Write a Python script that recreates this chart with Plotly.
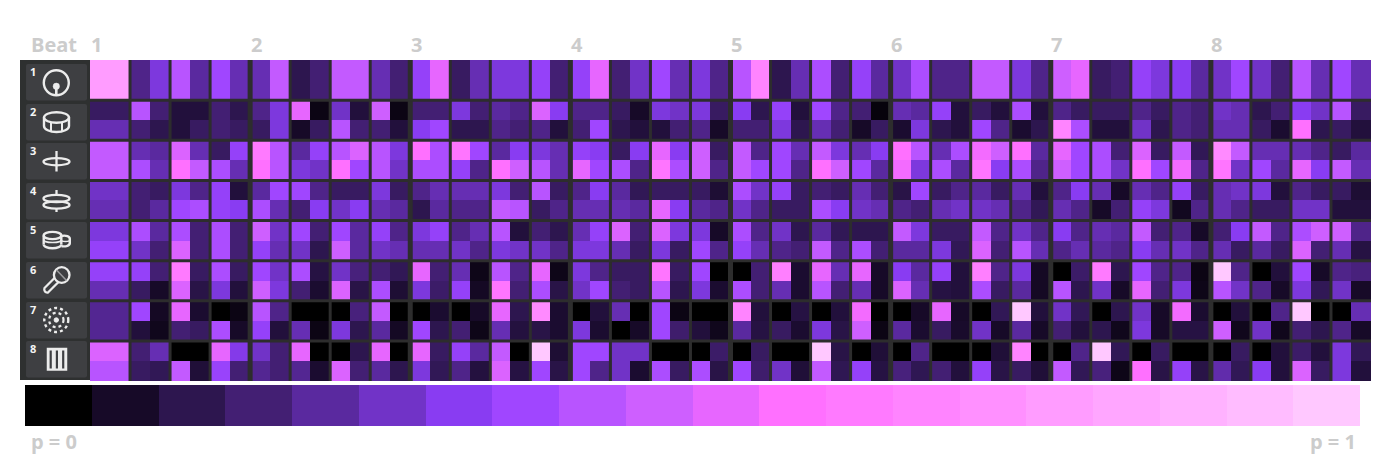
import plotly.graph_objects as go

W, H = 1390, 460

# Colour levels of the p legend (p = 0 ... p = 1)
LEVEL_COLORS = ["#000000", "#170a28", "#2d164f", "#431f73", "#5a299f", "#7133c7", "#893cf2",
                "#a046ff", "#b854ff", "#ce5fff", "#e766ff", "#ff70ff", "#ff7aff", "#ff84ff",
                "#ff90ff", "#ff9cff", "#ffa6ff", "#ffb2ff", "#ffbcff", "#ffc8ff"]
LEGEND_LEVELS = list(range(20))
BEAT_LABELS = ["1", "2", "3", "4", "5", "6", "7", "8"]
TRACK_LABELS = ["1", "2", "3", "4", "5", "6", "7", "8"]

# Track 1 (one row drawn twice in the picture: both halves are the same)
T1 = [15,15,3.5,5.5,8,4,7,4.5, 4.5,8.5,2,3,8.5,8.5,4.5,3,
      6.5,10,2.5,4.5,5.5,5.5,6.5,3, 6.5,10,3,5,7,4.5,5.5,3.5,
      8,13,2,4.5,7.5,3,6.5,4, 5,7.5,3.5,3.5,8.5,8.5,5.5,3.5,
      9,10,2.5,3,6.5,5.5,6,4, 5,7,5,3,8,4.5,7,4.5]
# Track 2
T2A = [2.5,2.5,8,3,1.5,1.5,3,2, 3.5,5.5,10,0.5,5,1.5,9,0.5,
       3,3,5.5,3,4,3.5,9.5,6, 3.5,3.5,2.5,1,5.5,5,5.5,2.5,
       6,2,6.5,1.5,7,3.5,3,0.3, 4.5,4,6.5,1.5,2.5,1.5,7.5,1.5,
       3.5,2.5,2.5,2.5,3.5,2.5,3.5,3, 5,4.5,2,3,6,5,8,2.5]
T2B = [4.5,4.5,3,2,1.5,2.5,3,2.5, 2.5,5.5,1,2.5,8,3,3,1.5,
       6,7,2,2,3.5,3,3.5,1.5, 3,7,2,1.5,1.5,3,3.5,1,
       3,3,5.5,2,4.5,3,1,2.5, 1.2,5.5,2,1.5,7,3.5,1.2,2,
       13,7.5,1.5,1.5,5,2,3.5,3, 4.5,4.5,2.5,1.2,11,2,2.5,1.5]
# Track 3
T3A = [8.5,8.5,4.5,4,9.5,4.5,2.5,6.5, 12,8,4,6.5,8,9.5,8,5.5,
       11,7.5,11.5,7,4,6,5.5,4.5, 6.5,6,2.5,6,10,6,9,2.5,
       8.5,3.5,7,4.5,8.5,5.5,4.5,6, 11,8,4.5,7.5,10.5,9,11,4,
       10,7,7.5,3,9.5,2.5,8.5,2.2, 13.5,8.5,4.5,4.5,4.5,3.5,2.5,4]
T3B = [8.5,8.5,7.5,4.5,11,8.5,7.5,4.5, 11,8,5.5,5,11,7,8,5,
       7.5,7.5,6.5,3.5,11,9,8,4.5, 10,7,7.5,3.5,11.5,7.5,9,3.5,
       8.5,7,7,3.5,11,9,7,4, 10.5,5.5,7.5,4,11.5,6,7.5,3.5,
       9,7,7.5,5,11,7,10.5,3.5, 11.5,5,7,4,10,6,8.5,4.5]
# Track 4
T4A = [5,5,3,2.5,5.5,3.5,6.5,1.5, 4,7,7,3.5,2.5,2.5,5.5,2.5,
       3.5,4.5,4.5,4.5,5.5,3,8,2.5, 3.5,6,4,2.2,2.5,2.5,2.5,1.3,
       7.5,5,6.5,2.5,3,2.5,4.5,3, 1.8,7,2.5,3.5,4,2.5,4.5,1.5,
       3.5,6,4.5,1,4.5,3.5,6.5,2.5, 4.5,5,5.5,1.5,3.5,2.5,2.5,1.3]
T4B = [4.5,4.5,3,4,7,7.5,6.5,6, 7.5,4.5,3,6,5,6,4.5,4,
       2,4,3.5,3.5,8.5,8,2.5,3.5, 4.5,4.5,4.5,4,10,6,4,3.5,
       5,3.5,2.5,2.5,7.5,6,5,4.5, 3.5,3,4.5,5,5,4.5,3.5,2.2,
       4.5,3.5,1,3,6.5,5.5,0.8,3.5, 4.5,3.5,2.5,2.5,5,5,1.5,1.5]
# Track 5
T5A = [5.5,5.5,7.5,4,7.5,3,7.5,3, 9,5,7,3,7,4,6.5,3.5,
       5.5,6.5,3.5,4.5,8,1.5,3,2, 4.5,6.5,9.5,3,9.5,5.5,5.5,1,
       7.5,3.5,5,2,4,2.2,2,2, 8.5,5.5,2.5,2.5,8.5,3.5,5,3.5,
       6,3.5,4.5,4,8.5,3,3.5,1, 3,6,8.5,3.5,7.5,9,9,3.5]
T5B = [6.5,6.5,5,3,9.5,3,7.5,3, 6.5,4.5,5,2,9,4,5,4.5,
       4.5,4.5,5,3.5,5.5,5,5,3.5, 5.5,5.5,4.5,2.5,5.5,2.5,7,3.5,
       6.5,4.5,3.5,3,8.5,3.5,7.5,3, 4,4,5.5,2.2,9.5,3,8,4.5,
       3.5,4.5,4,3.5,6,4.5,5,3.5, 4.5,2.5,4,2.5,9.5,3,4.5,1.7]
# Track 6
T6A = [6.5,6.5,6.5,3,12,2.5,7.5,2.5, 7,5,7.5,1.7,5,3.2,3,2.2,
       10,3,4.5,0.6,8,3.5,10,0.6, 5.5,3.5,2.5,2.5,11.5,2.5,7,0,
       0,3,12.5,1.2,10,4.5,10,1, 6,4,6.5,1.5,12.5,3.5,5.5,0.9,
       0,2.7,12,2,7,3.5,3.5,0.5, 19,3.5,0,1.5,7,1,3.5,3.2]
T6B = [4.5,4.5,2.5,1,9.5,1.8,5.5,1.5, 9,5.5,3,1.2,9.5,1.8,7.5,1.3,
       5.5,2.7,6.5,0.9,11.5,3,7.5,1.8, 5,7,3,2.5,8,2,5.5,1.2,
       7.5,3,4.5,1.2,8,3,4.5,1, 9.5,4.5,1.7,1.5,7.5,2.5,4,0.9,
       8,2,5,1,10,3,5.5,0.6, 8,5,3.5,1,5.5,2.2,5,1]
# Track 7
T7A = [3.7,3.7,7,0.9,10,1.2,0,0.5, 8,3.5,0,0,0,3.2,8.5,0,
       0,1.2,0,1,10,2,13.5,1.2, 0,1.5,4.5,0,7,0.5,0,0,
       13,1.5,0,1.7,0,1.5,10.5,0, 0,1,10,1,0,2.2,19,1.5,
       5,2.2,0,2,5,1,10.5,1.2, 0,1.5,0,3.5,19,0,0,4.5]
T7B = [3.7,3.7,1.5,0.7,3,2.5,7.5,1, 6.5,1.5,4.5,0.5,5.5,2,4,0.9,
       7,2,3,0.6,4.5,1.6,1.8,1.2, 5.5,1.2,0,1,7,2.8,1.5,0.7,
       4,1.7,2.5,1.2,5.5,1.8,9,0.5, 4,1.2,2.5,1.1,5,1,4,1,
       3,1.5,2,0.7,5.5,1,1.7,1.7, 9,0.7,5,0.7,3,2,3.5,1]
# Track 8
T8A = [9.5,9.5,3,4.5,0,0,10,5.8, 5,3,10,0,0,2,10,0,
       10,2.5,6.5,4,8.5,0,19,1.3, 7,7,5,5,0,0,0,2.7,
       0,2.5,0,0,19,1.8,0,1.4, 0,3.5,0,0,0,1.4,13,0,
       0,3.5,19,2.2,0,2.5,0,0, 0,2.5,0,1.5,2.7,1.5,5.5,2.2]
T8B = [8,8,2.5,2.2,8.5,1.4,6.7,3, 3.7,3,3.7,1.2,9.5,3,4,2,
       5.5,2.2,3.5,1.6,9.5,1.7,7,1.8, 7,3.5,5,1.2,7.5,2.5,7.5,1.8,
       7,2.8,5,1.4,8.5,2.1,6.5,1.7, 3.2,2.1,3,1.5,6.5,1.8,2.5,1.4,
       8.5,2.2,3.2,0.6,11,1.8,6.5,1.8, 4.3,2.2,6,1.5,9.5,2.5,5.5,1.5]

GRID_ROWS = [T1, T1, T2A, T2B, T3A, T3B, T4A, T4B, T5A, T5B, T6A, T6B, T7A, T7B, T8A, T8B]

# Layout constants, pixels
GRID_L, GRID_R, GRID_T, GRID_B = 90, 1371, 60, 381
BAR_L, BAR_R, BAR_T, BAR_B = 25, 1360, 385, 426
PANEL = "#2e3030"
BOX = "#3e3f42"
GRIDLINE = "#2d2d2d"
ICON = "#ececec"
LABEL = "#cccccc"


def px(x):
    return x / W


def py(y):
    return 1 - y / H


scale = [[i / 19, c] for i, c in enumerate(LEVEL_COLORS)]

fig = go.Figure()
fig.add_trace(go.Heatmap(z=GRID_ROWS, x0=0.5, dx=1, y0=0.5, dy=1, zmin=0, zmax=19,
                         colorscale=scale, showscale=False, hoverinfo="skip",
                         xaxis="x", yaxis="y"))
fig.add_trace(go.Heatmap(z=[LEGEND_LEVELS], x0=0.5, dx=1, y0=0, dy=1, zmin=0, zmax=19,
                         colorscale=scale, showscale=False, hoverinfo="skip",
                         xaxis="x2", yaxis="y2"))

shapes = []


def pshape(**k):
    k.setdefault("xref", "paper")
    k.setdefault("yref", "paper")
    shapes.append(k)


def line_style(w=2.0, color=ICON):
    return dict(color=color, width=w)


def rect(x0, y0, x1, y1, fill=None, line=None):
    pshape(type="rect", x0=px(x0), x1=px(x1), y0=py(y0), y1=py(y1),
           fillcolor=fill if fill else "rgba(0,0,0,0)", line=line or dict(width=0))


def ell(cx, cy, rx, ry, fill=None, w=2.0, dash=None, color=ICON):
    ln = line_style(w, color)
    if dash:
        ln["dash"] = dash
    pshape(type="circle", x0=px(cx - rx), x1=px(cx + rx), y0=py(cy + ry), y1=py(cy - ry),
           fillcolor=fill if fill else "rgba(0,0,0,0)", line=ln)


def path(points, w=2.0, color=ICON):
    d = ""
    for cmd, *pts in points:
        d += cmd
        d += " ".join(f"{px(pts[i]):.5f},{py(pts[i + 1]):.5f}" for i in range(0, len(pts), 2))
        d += " "
    pshape(type="path", path=d.strip(), line=line_style(w, color),
           fillcolor="rgba(0,0,0,0)")


def seg(x0, y0, x1, y1, w=2.0, color=ICON):
    path([("M", x0, y0), ("L", x1, y1)], w, color)


def lower_arc(cx, cy, rx, ry, w=2.0):
    k = 0.55
    path([("M", cx - rx, cy),
          ("C", cx - rx, cy + k * ry, cx - k * rx, cy + ry, cx, cy + ry),
          ("C", cx + k * rx, cy + ry, cx + rx, cy + k * ry, cx + rx, cy)], w)


# Left panel and the eight rounded boxes
rect(20, 60, 90, 380, fill=PANEL)
BOX_TOPS = [64, 104, 143, 183, 222, 262, 302, 341]
for t in BOX_TOPS:
    h = 36.5
    x0, x1, r = 26, 87, 2
    d = (f"M{px(x0 + r):.5f},{py(t):.5f} L{px(x1 - r):.5f},{py(t):.5f} "
         f"Q{px(x1):.5f},{py(t):.5f} {px(x1):.5f},{py(t + r):.5f} "
         f"L{px(x1):.5f},{py(t + h - r):.5f} Q{px(x1):.5f},{py(t + h):.5f} {px(x1 - r):.5f},{py(t + h):.5f} "
         f"L{px(x0 + r):.5f},{py(t + h):.5f} Q{px(x0):.5f},{py(t + h):.5f} {px(x0):.5f},{py(t + h - r):.5f} "
         f"L{px(x0):.5f},{py(t + r):.5f} Q{px(x0):.5f},{py(t):.5f} {px(x0 + r):.5f},{py(t):.5f} Z")
    pshape(type="path", path=d, fillcolor=BOX, line=dict(width=0))

# Icon 1: kick
ell(56.3, 82.7, 12.5, 12.5, w=2.4)
ell(56.3, 86.3, 3.2, 3.2, fill=ICON, w=0.5)
seg(56.3, 86.3, 56.3, 95, 2.6)
# Icon 2: snare
ell(56.5, 117.5, 12.5, 5.3, w=2.4)
seg(44, 117.5, 44, 126, 2.4)
seg(69, 117.5, 69, 126, 2.4)
lower_arc(56.5, 126, 12.5, 6, 2.4)
seg(51, 123, 51, 131.5, 2)
seg(62, 123, 62, 131.5, 2)
# Icon 3: hi-hat
ell(56.5, 161.7, 13, 3.6, w=2.3)
seg(56.5, 151, 56.5, 171.5, 2.3)
# Icon 4: double cymbal
ell(56.5, 198.5, 13, 3.7, w=2.3)
ell(56.5, 205, 13, 3.7, w=2.3)
seg(56.5, 190, 56.5, 195, 2.3)
seg(56.5, 208.7, 56.5, 212, 2.3)
# Icon 5: toms
ell(52.5, 235.5, 8.8, 3.6, w=2.4)
seg(43.7, 235.5, 43.7, 244.5, 2.4)
seg(61.3, 235.5, 61.3, 244.5, 2.4)
lower_arc(52.5, 244.5, 8.8, 3.7, 2.4)
lower_arc(52.5, 240, 8.8, 2.6, 1.5)
path([("M", 61.5, 236), ("C", 66, 235, 70, 236.5, 69.8, 239), ("L", 69.8, 243),
      ("C", 70, 245.5, 66, 246.8, 61.5, 246.3)], 2.4)
lower_arc(65.5, 240, 4.3, 1.5, 1.5)
# Icon 6: microphone
ell(61.7, 275, 7.8, 7.8, w=2.3)
seg(56.5, 270, 66.5, 280.5, 1.5, "#9a9a9d")
path([("M", 55, 277.5), ("L", 44.5, 288), ("C", 43.5, 291, 45.5, 293, 48, 292.5), ("L", 58.5, 282)], 2.3)
# Icon 7: dotted rings
ell(56.3, 320, 2.2, 2.2, fill=ICON, w=1)
ell(56.3, 320, 7.2, 7.2, w=2.2, dash="dot")
ell(56.3, 320, 12, 12, w=2.4, dash="dot")
# Icon 8: piano
rect(47.5, 348.5, 66.5, 370, fill=ICON, line=line_style(1.5))
for xk in (50.7, 56.9, 63.2):
    seg(xk, 350.5, xk, 368.5, 2.2, BOX)

# Grid lines
for c in range(2, 64, 2):
    shapes.append(dict(type="line", xref="x", yref="y", x0=c, x1=c, y0=0, y1=16,
                       line=dict(color=GRIDLINE, width=5 if c % 8 == 0 else 3)))
for r in range(2, 16, 2):
    shapes.append(dict(type="line", xref="x", yref="y", x0=0, x1=64, y0=r, y1=r,
                       line=dict(color=GRIDLINE, width=3)))

annotations = []


def label(text, x, y, size, color=LABEL, weight=700, anchor="left"):
    annotations.append(dict(text=text, xref="paper", yref="paper", x=px(x), y=py(y),
                            xanchor=anchor, yanchor="middle", showarrow=False,
                            font=dict(family="Open Sans", size=size, color=color, weight=weight)))


label("Beat", 28.5, 45, 20)
for i, b in enumerate(BEAT_LABELS):
    label(b, 88.5 + 160.1 * i, 45, 20)
for t, n in zip(BOX_TOPS, TRACK_LABELS):
    label(n, 27.5, t + 7, 11, color="#f4f4f4")
label("p = 0", 28.5, 441, 20)
label("p = 1", 1357.5, 441, 20, anchor="right")

fig.update_layout(
    width=W, height=H, autosize=False, margin=dict(l=0, r=0, t=0, b=0, pad=0),
    paper_bgcolor="white", plot_bgcolor="white", showlegend=False,
    shapes=shapes, annotations=annotations,
    xaxis=dict(domain=[px(GRID_L), px(GRID_R)], range=[0, 64], visible=False, fixedrange=True),
    yaxis=dict(domain=[py(GRID_B), py(GRID_T)], range=[16, 0], visible=False, fixedrange=True),
    xaxis2=dict(domain=[px(BAR_L), px(BAR_R)], range=[0, 20], visible=False, fixedrange=True, anchor="y2"),
    yaxis2=dict(domain=[py(BAR_B), py(BAR_T)], range=[-0.5, 0.5], visible=False, fixedrange=True, anchor="x2"),
)

fig.write_html("out.html", config={"displayModeBar": False},
               post_script="document.body.style.margin='0';document.documentElement.style.overflow='hidden';")
